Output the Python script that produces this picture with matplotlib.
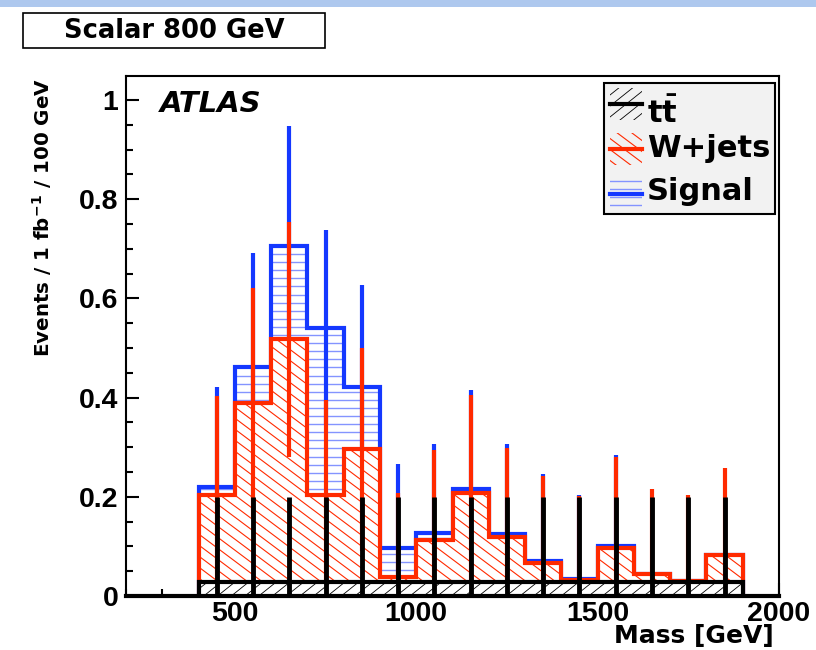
import matplotlib.pyplot as plt
from matplotlib.patches import Rectangle, Polygon
from matplotlib.lines import Line2D
from matplotlib.collections import LineCollection
from matplotlib.ticker import MultipleLocator, FuncFormatter
import numpy as np

plt.rcParams["font.family"] = ["DejaVu Sans"]
plt.rcParams["font.weight"] = "bold"
plt.rcParams["mathtext.fontset"] = "dejavusans"
plt.rcParams["mathtext.default"] = "bf"

# binning and per-bin yields (events / 1 fb^-1 / 100 GeV)
bin_edges = [400, 500, 600, 700, 800, 900, 1000, 1100, 1200, 1300,
             1400, 1500, 1600, 1700, 1800, 1900]
ttbar = [0.028, 0.028, 0.028, 0.028, 0.028, 0.028, 0.028, 0.028,
         0.028, 0.028, 0.028, 0.028, 0.028, 0.028, 0.028]
ttbar_err = [0.172, 0.172, 0.172, 0.172, 0.172, 0.172, 0.172, 0.172,
             0.172, 0.172, 0.172, 0.172, 0.172, 0.172, 0.172]
wjets = [0.176, 0.362, 0.490, 0.176, 0.268, 0.011, 0.085, 0.179,
         0.090, 0.039, 0.004, 0.069, 0.016, 0.002, 0.055]
wjets_err = [0.199, 0.230, 0.237, 0.191, 0.205, 0.169, 0.181, 0.198,
             0.180, 0.175, 0.169, 0.184, 0.171, 0.174, 0.175]
signal = [0.016, 0.072, 0.188, 0.337, 0.125, 0.058, 0.015, 0.009,
          0.008, 0.004, 0.002, 0.004, 0.0, 0.0, 0.0]
signal_err = [0.201, 0.229, 0.242, 0.196, 0.207, 0.170, 0.178, 0.199,
              0.180, 0.174, 0.169, 0.183, 0.172, 0.174, 0.175]

RED = "#ff2a00"
BLUE = "#1438ff"
LIGHT_BLUE = "#8494ff"

W, H = 816, 650

# hatch styles: (slope in pixels, line spacing along y in pixels, offset, colour, width)
HATCH_TT = (-0.8, 11.0, 0.0, "black", 0.6)
HATCH_W = (0.75, 11.0, 0.0, RED, 0.8)
HATCH_SIG = (0.0, 8.1, 254.0, LIGHT_BLUE, 1.0)


def fig_xy(x, y):
    # pixel position (from top-left) -> figure fraction
    return x / W, 1 - y / H


def fig_rect(x0, y0, x1, y1, **kw):
    fx, fy = fig_xy(x0, y1)
    return Rectangle((fx, fy), (x1 - x0) / W, (y1 - y0) / H,
                     transform=fig.transFigure, **kw)


def hatch_lines(style, zorder):
    # family of parallel lines over the whole canvas, in figure fraction
    slope, step, offset, color, lw = style
    span = abs(slope) * W
    ks = np.arange(np.floor((-span - offset) / step) - 1,
                   np.ceil((H + span - offset) / step) + 1)
    segs = []
    for k in ks:
        c = offset + k * step
        segs.append([fig_xy(0, c), fig_xy(W, c + slope * W)])
    return LineCollection(segs, colors=color, linewidths=lw,
                          transform=fig.transFigure, zorder=zorder)


def hatched_band(ax, edges, lo, hi, style, zorder):
    top = []
    bottom = []
    for i in range(len(edges) - 1):
        top += [(edges[i], hi[i]), (edges[i + 1], hi[i])]
        bottom += [(edges[i], lo[i]), (edges[i + 1], lo[i])]
    poly = Polygon(top + bottom[::-1], closed=True, facecolor="white",
                   edgecolor="none", zorder=zorder)
    ax.add_patch(poly)
    lc = hatch_lines(style, zorder)
    lc.set_clip_path(poly)
    ax.add_collection(lc, autolim=False)


edges = np.array(bin_edges, dtype=float)
centers = 0.5 * (edges[:-1] + edges[1:])
tt = np.array(ttbar)
wj = np.array(wjets)
sig = np.array(signal)
tt_w = tt + wj
total = tt_w + sig

fig = plt.figure(figsize=(W / 100, H / 100), dpi=100)
ax = fig.add_axes([126 / W, 54 / H, 653 / W, 520 / H])

# signal on top of the stack
hatched_band(ax, edges, tt_w, total, HATCH_SIG, 1)
ax.stairs(total, edges, baseline=0, color=BLUE, linewidth=3, zorder=2)
has_sig = sig > 0
ax.vlines(centers[has_sig], (total - signal_err)[has_sig],
          (total + signal_err)[has_sig], color=BLUE, linewidth=3,
          capstyle="butt", zorder=3)

# W+jets
hatched_band(ax, edges, tt, tt_w, HATCH_W, 4)
ax.stairs(tt_w, edges, baseline=0, color=RED, linewidth=3, zorder=5)
ax.vlines(centers, tt_w - np.array(wjets_err), tt_w + np.array(wjets_err),
          color=RED, linewidth=3, capstyle="butt", zorder=6)

# ttbar
hatched_band(ax, edges, np.zeros_like(tt), tt, HATCH_TT, 7)
ax.stairs(tt, edges, baseline=0, color="black", linewidth=3, zorder=8)
ax.vlines(centers, tt - np.array(ttbar_err), tt + np.array(ttbar_err),
          color="black", linewidth=3.5, capstyle="butt", zorder=9)

ax.set_xlim(200, 2000)
ax.set_ylim(0, 520 / 496)

ax.xaxis.set_major_locator(MultipleLocator(500))
ax.xaxis.set_minor_locator(MultipleLocator(100))
ax.yaxis.set_major_locator(MultipleLocator(0.2))
ax.yaxis.set_minor_locator(MultipleLocator(0.05))
ax.yaxis.set_major_formatter(FuncFormatter(lambda v, p: f"{v:g}"))
ax.xaxis.set_major_formatter(
    FuncFormatter(lambda v, p: "" if v < 500 else f"{v:g}"))
ax.tick_params(which="major", direction="in", length=9.5, width=1.5,
               top=False, right=False)
ax.tick_params(which="minor", direction="in", length=5, width=1.5,
               top=False, right=False)
ax.tick_params(axis="y", which="major", pad=5.5)
ax.tick_params(axis="x", which="major", pad=3.5)
for lab in ax.get_xticklabels() + ax.get_yticklabels():
    lab.set_fontfamily("Liberation Sans")
    lab.set_fontweight("bold")
    lab.set_fontsize(20.5)

for name, sp in ax.spines.items():
    sp.set_linewidth(1.5)
    sp.set_zorder(10)
ax.spines["bottom"].set_linewidth(3)

ax.text(34 / 653, (596 - 112) / 520, "ATLAS", transform=ax.transAxes,
        fontsize=21, fontweight="bold", fontstyle="italic",
        va="baseline", ha="left")

fig.text(*fig_xy(774, 643), "Mass [GeV]", fontsize=18, fontweight="bold",
         ha="right", va="baseline")
fig.text(*fig_xy(42, 78), r"Events / 1 fb$^{-1}$ / 100 GeV", fontsize=14.3,
         fontweight="bold", rotation=90, ha="center", va="top")

# legend box
fig.add_artist(fig_rect(604, 83, 775, 214, facecolor="#f2f2f2",
                        edgecolor="black", linewidth=1.5))
swatches = [
    (88, 120, HATCH_TT, "black", r"$t\bar{t}$", 123),
    (133, 165, HATCH_W, RED, "W+jets", 157),
    (180, 207, HATCH_SIG, BLUE, "Signal", 200),
]
for y0, y1, style, lcol, label, base in swatches:
    clip = fig_rect(610, y0, 642, y1, facecolor="none", edgecolor="none")
    fig.add_artist(clip)
    lc = hatch_lines(style, 3)
    lc.set_clip_path(clip)
    fig.add_artist(lc)
    ym = fig_xy(0, (y0 + y1) / 2)[1]
    fig.add_artist(Line2D([610 / W, 642 / W], [ym, ym], color=lcol,
                          linewidth=3, transform=fig.transFigure, zorder=4))
    fig.text(*fig_xy(647, base), label, fontsize=22, fontweight="bold",
             ha="left", va="baseline")

# header box
fig.add_artist(fig_rect(23, 13, 325, 48, facecolor="white",
                        edgecolor="black", linewidth=1.2))
fig.text(*fig_xy(174, 31), "Scalar 800 GeV", fontsize=18.5,
         fontweight="bold", ha="center", va="center")

# strip along the top edge
fig.add_artist(fig_rect(0, 0, W, 7, facecolor="#aec8ee", edgecolor="none"))

fig.savefig("out.png", dpi=100)
